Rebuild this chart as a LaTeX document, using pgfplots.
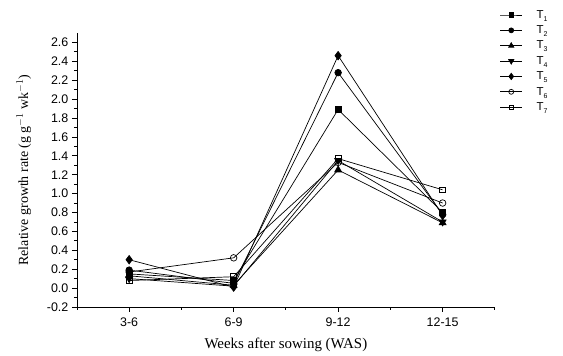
\documentclass[border=0pt]{standalone}
\usepackage{pgfplots}
\pgfplotsset{compat=1.18}
\usepackage{fontspec}
\setmainfont{Liberation Serif}
\newfontfamily\arial{Liberation Sans}

% Relative growth rate per treatment over the sampling intervals
\pgfplotstableread{
x  T1   T2   T3   T4   T5   T6   T7
1  0.15 0.19 0.13 0.10 0.30 0.17 0.08
2  0.08 0.05 0.03 0.02 0.01 0.32 0.12
3  1.89 2.28 1.25 1.35 2.46 1.33 1.37
4  0.80 0.78 0.69 0.70 0.77 0.90 1.04
}\rgr

% legend label: T with a dropped subscript
\newcommand{\tlab}[1]{\hspace{12bp}T\raisebox{-3bp}{\fontsize{7}{7}\selectfont #1}}

\begin{document}
\begin{tikzpicture}[x=1bp,y=1bp]
\begin{axis}[
  scale only axis,
  width=418bp, height=274bp,
  xmin=0.5, xmax=4.5,
  ymin=-0.2, ymax=2.7,
  axis x line*=bottom,
  axis y line*=left,
  axis line style={-, line width=0.8bp},
  xtick={1,2,3,4},
  xticklabels={3-6,6-9,9-12,12-15},
  minor xtick={0.5,1.5,2.5,3.5,4.5},
  ytick={-0.2,0,0.2,0.4,0.6,0.8,1.0,1.2,1.4,1.6,1.8,2.0,2.2,2.4,2.6},
  minor ytick={-0.1,0.1,0.3,0.5,0.7,0.9,1.1,1.3,1.5,1.7,1.9,2.1,2.3,2.5},
  yticklabel style={/pgf/number format/.cd,fixed,fixed zerofill,precision=1},
  /pgf/number format/assume math mode=true,
  ticklabel style={font=\arial\fontsize{12.5}{14}\selectfont},
  xticklabel style={yshift=-2bp},
  major tick length=5bp,
  minor tick length=3bp,
  tick style={black, line width=0.8bp},
  major tick style={tick align=outside},
  minor tick style={tick align=inside},
  xtick align=outside,
  ytick align=outside,
  xlabel={Weeks after sowing (WAS)},
  ylabel={Relative growth rate (g g$^{-1}$ wk$^{-1}$)},
  xlabel style={font=\fontsize{15}{17}\selectfont, yshift=-5bp},
  ylabel style={font=\fontsize{14}{16}\selectfont, yshift=9bp},
  every axis plot/.append style={black, line width=0.7bp, mark size=3.3bp},
  clip=false,
  legend style={draw=none, fill=none, at={(1.012,1.09)}, anchor=north west,
    font=\arial\fontsize{11.5}{12}\selectfont, row sep=2bp,
    inner sep=0pt, outer sep=0pt},
  legend cell align=left,
  legend image code/.code={%
    \draw[mark repeat=2, mark phase=2, every mark/.append style={scale=0.75}]
      plot coordinates {(0bp,0bp) (11bp,0bp) (22bp,0bp)};},
]
\addplot[mark=square*, mark size=2.9bp] table[x=x,y=T1] {\rgr};
\addlegendentry{\tlab{1}}
\addplot[mark=*] table[x=x,y=T2] {\rgr};
\addlegendentry{\tlab{2}}
\addplot[mark=triangle*, mark size=4bp] table[x=x,y=T3] {\rgr};
\addlegendentry{\tlab{3}}
\addplot[mark=triangle*, mark size=4bp, mark options={rotate=180}] table[x=x,y=T4] {\rgr};
\addlegendentry{\tlab{4}}
\addplot[mark=diamond*, mark size=4.2bp] table[x=x,y=T5] {\rgr};
\addlegendentry{\tlab{5}}
\addplot[mark=o, mark options={fill=white}] table[x=x,y=T6] {\rgr};
\addlegendentry{\tlab{6}}
\addplot[mark=square, mark size=2.9bp, mark options={fill=white}] table[x=x,y=T7] {\rgr};
\addlegendentry{\tlab{7}}
\path (rel axis cs:-0.184,-0.1715) rectangle (rel axis cs:1.163,1.1204);
\end{axis}
\end{tikzpicture}
\end{document}
